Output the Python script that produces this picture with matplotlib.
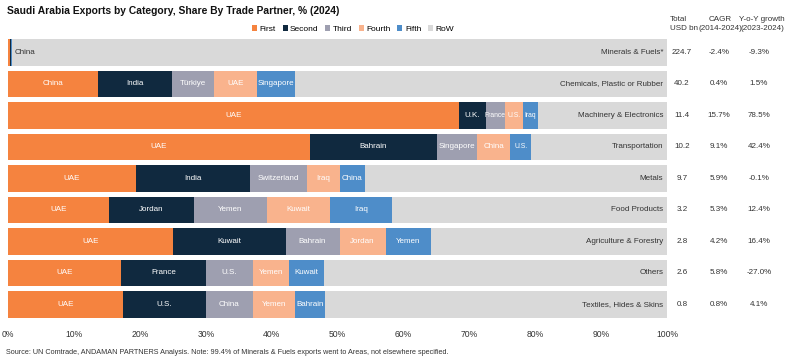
import numpy as np
import matplotlib.pyplot as plt

plt.rcParams['font.family'] = ['Liberation Sans', 'DejaVu Sans']

categories = ["Minerals & Fuels*", "Chemicals, Plastic or Rubber", "Machinery & Electronics",
              "Transportation", "Metals", "Food Products", "Agriculture & Forestry",
              "Others", "Textiles, Hides & Skins"]

# shares of the top five partners, % of category exports
first = [0.3, 13.7, 68.4, 45.8, 19.4, 15.3, 25.0, 17.1, 17.4]
second = [0.1, 11.2, 4.1, 19.3, 17.3, 12.9, 17.1, 13.0, 12.7]
third = [0.05, 6.4, 2.9, 6.1, 8.6, 11.1, 8.2, 7.0, 7.0]
fourth = [0.05, 6.5, 2.7, 5.0, 5.0, 9.6, 7.0, 5.6, 6.4]
fifth = [0.1, 5.8, 2.3, 3.2, 3.9, 9.3, 6.8, 5.2, 4.6]

partners = [
    ["China", "", "", "", ""],
    ["China", "India", "Türkiye", "UAE", "Singapore"],
    ["UAE", "U.K.", "France", "U.S.", "Iraq"],
    ["UAE", "Bahrain", "Singapore", "China", "U.S."],
    ["UAE", "India", "Switzerland", "Iraq", "China"],
    ["UAE", "Jordan", "Yemen", "Kuwait", "Iraq"],
    ["UAE", "Kuwait", "Bahrain", "Jordan", "Yemen"],
    ["UAE", "France", "U.S.", "Yemen", "Kuwait"],
    ["UAE", "U.S.", "China", "Yemen", "Bahrain"],
]

total = ["224.7", "40.2", "11.4", "10.2", "9.7", "3.2", "2.8", "2.6", "0.8"]
cagr = ["-2.4%", "0.4%", "15.7%", "9.1%", "5.9%", "5.3%", "4.2%", "5.8%", "0.8%"]
yoy = ["-9.3%", "1.5%", "78.5%", "42.4%", "-0.1%", "12.4%", "16.4%", "-27.0%", "4.1%"]

series = ["First", "Second", "Third", "Fourth", "Fifth", "RoW"]
colors = ["#F5833F", "#10293F", "#9E9FB0", "#F9B38D", "#4E8DC9", "#D9D9D9"]

fs = 5.8
fig = plt.figure(figsize=(8, 3.6), dpi=100)
ax = fig.add_axes([0.01, 0.111, 0.824, 0.7875])

data = np.array([first, second, third, fourth, fifth])
row = 100 - data.sum(axis=0)
data = np.vstack([data, row])
y = np.arange(len(categories))
left = np.zeros(len(categories))
for k in range(6):
    ax.barh(y, data[k], left=left, height=0.84, color=colors[k], label=series[k])
    if k < 5:
        for i in range(len(categories)):
            name = partners[i][k]
            if name and i != 0:
                size = fs if data[k][i] > 3.5 else 4.9
                ax.text(left[i] + data[k][i] / 2, y[i], name, ha="center", va="center",
                        fontsize=size, color="white")
    left = left + data[k]

ax.text(1.0, 0, partners[0][0], ha="left", va="center", fontsize=fs, color="#333333")

for i, c in enumerate(categories):
    ax.text(99.4, y[i], c, ha="right", va="center", fontsize=fs, color="#333333")

ax.set_xlim(0, 100)
ax.set_ylim(len(categories) - 0.5, -0.5)
ax.set_yticks([])
ax.set_xticks(np.arange(0, 101, 10))
ax.set_xticklabels([f"{v}%" for v in range(0, 101, 10)], fontsize=6.2, color="#333333")
ax.tick_params(axis="x", length=0, pad=7)
for s in ax.spines.values():
    s.set_visible(False)

# side table
cols_x = [682 / 800, 719 / 800, 759 / 800]
for i in range(len(categories)):
    yy = ax.transData.transform((0, y[i]))[1] / 360
    fig.text(cols_x[0], yy, total[i], ha="center", va="center", fontsize=fs, color="#333333")
    fig.text(cols_x[1], yy, cagr[i], ha="center", va="center", fontsize=fs, color="#333333")
    fig.text(cols_x[2], yy, yoy[i], ha="center", va="center", fontsize=fs, color="#333333")

hy = 1 - 24 / 360
fig.text(670 / 800, hy, "Total\nUSD bn", ha="left", va="center", fontsize=fs,
         color="#333333", linespacing=1.5)
fig.text(720 / 800, hy, "CAGR\n(2014-2024)", ha="center", va="center", fontsize=fs,
         color="#333333", linespacing=1.5)
fig.text(762 / 800, hy, "Y-o-Y growth\n(2023-2024)", ha="center", va="center",
         fontsize=fs, color="#333333", linespacing=1.5)

fig.text(7 / 800, 1 - 11 / 360, "Saudi Arabia Exports by Category, Share By Trade Partner, % (2024)",
         ha="left", va="center", fontsize=7.4, fontweight="bold", color="#111111")

ax.legend(loc="lower left", bbox_to_anchor=(247 / 800 / 0.824 - 0.012, 0.995), ncol=6,
          frameon=False, fontsize=6, handlelength=0.6, handleheight=0.6,
          handletextpad=0.3, columnspacing=0.8, borderaxespad=0.2)

fig.text(6 / 800, 1 - 352 / 360,
         "Source: UN Comtrade, ANDAMAN PARTNERS Analysis. Note: 99.4% of Minerals & Fuels exports went to Areas, not elsewhere specified.",
         ha="left", va="center", fontsize=5.2, color="#333333")

fig.savefig("out.png", dpi=100)
